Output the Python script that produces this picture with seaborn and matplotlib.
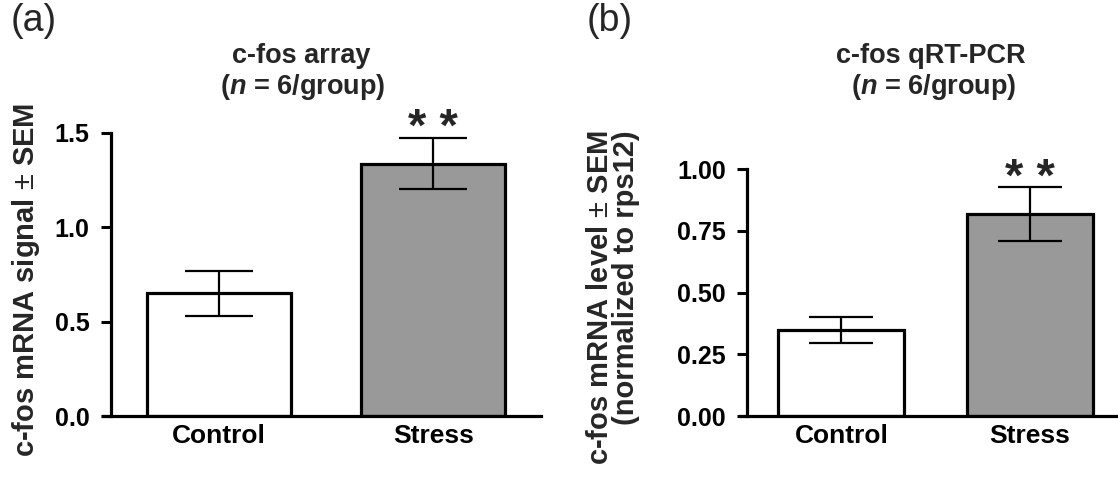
import matplotlib
matplotlib.use("Agg")
import matplotlib.pyplot as plt
import seaborn as sns
import pandas as pd

groups = ["Control", "Stress"]
array_mean = [0.65, 1.335]
array_sem = [0.118, 0.135]
pcr_mean = [0.347, 0.818]
pcr_sem = [0.053, 0.11]
array_ticks = [0.0, 0.5, 1.0, 1.5]
array_ticklabels = ["0.0", "0.5", "1.0", "1.5"]
pcr_ticks = [0.0, 0.25, 0.5, 0.75, 1.0]
pcr_ticklabels = ["0.00", "0.25", "0.50", "0.75", "1.00"]
bar_colors = ["#ffffff", "#999999"]

sns.set_theme(style="white")
plt.rcParams["font.family"] = ["Liberation Sans", "DejaVu Sans"]
plt.rcParams["mathtext.fontset"] = "custom"
plt.rcParams["mathtext.rm"] = "Liberation Sans"
plt.rcParams["mathtext.it"] = "Liberation Sans:italic:bold"
plt.rcParams["mathtext.bf"] = "Liberation Sans:bold"

W, H = 1118, 479
fig = plt.figure(figsize=(W / 100, H / 100), dpi=100)

def px_box(left, right, top, bottom):
    return [left / W, 1 - bottom / H, (right - left) / W, (bottom - top) / H]

ax1 = fig.add_axes(px_box(103, 540.8, 132.7, 416))
ax2 = fig.add_axes(px_box(740, 1124, 169.3, 416))

def draw(ax, means, sems, ymax, ticks, ticklabels, caps):
    df = pd.DataFrame({"group": groups, "value": means})
    sns.barplot(data=df, x="group", y="value", hue="group", palette=bar_colors,
                edgecolor="black", linewidth=2.3, width=0.67, errorbar=None,
                legend=False, ax=ax, zorder=2)
    ax.errorbar(x=[0, 1], y=means, yerr=sems, fmt="none", ecolor="black",
                elinewidth=1.6, capsize=caps, capthick=1.6, zorder=3)
    ax.set_xlim(-0.538, 1.5)
    ax.set_ylim(0, ymax)
    ax.spines["top"].set_visible(False)
    ax.spines["right"].set_visible(False)
    ax.spines["left"].set_position(("data", -0.503))
    ax.spines["left"].set_bounds(0, ymax)
    for s in ["left", "bottom"]:
        ax.spines[s].set_linewidth(2.3)
        ax.spines[s].set_color("black")
    ax.set_yticks(ticks)
    ax.set_yticklabels(ticklabels, fontsize=18, fontweight="bold")
    ax.set_xticks([0, 1])
    ax.set_xticklabels(groups, fontsize=19, fontweight="bold")
    ax.tick_params(axis="y", direction="out", length=7, width=2.2, pad=8, left=True, colors="black")
    ax.tick_params(axis="x", length=0, pad=6, colors="black")
    ax.set_xlabel("")
    ax.set_ylabel("")
    ax.set_facecolor("white")

draw(ax1, array_mean, array_sem, 1.5, array_ticks, array_ticklabels, 24.5)
draw(ax2, pcr_mean, pcr_sem, 1.0, pcr_ticks, pcr_ticklabels, 22.8)

# significance stars
ax1.text(1, 1.52, "* *", ha="center", va="center", fontsize=34, fontweight="bold", clip_on=False)
ax2.text(1, 0.96, "* *", ha="center", va="center", fontsize=34, fontweight="bold", clip_on=False)

# titles
fig.text(301 / W, 1 - 43 / H, "c-fos array", ha="center", va="top", fontsize=19.5, fontweight="bold")
fig.text(303 / W, 1 - 72 / H, r"($\mathit{n}$ = 6/group)", ha="center", va="top", fontsize=19.5, fontweight="bold")
fig.text(931 / W, 1 - 43 / H, "c-fos qRT-PCR", ha="center", va="top", fontsize=19.5, fontweight="bold")
fig.text(934 / W, 1 - 72 / H, r"($\mathit{n}$ = 6/group)", ha="center", va="top", fontsize=19.5, fontweight="bold")

# panel labels
fig.text(11 / W, 1 - 3 / H, "(a)", ha="left", va="top", fontsize=27)
fig.text(587 / W, 1 - 3 / H, "(b)", ha="left", va="top", fontsize=27)

# y labels
fig.text(26 / W, 1 - 280 / H, r"c-fos mRNA signal $\pm$ SEM", rotation=90, ha="center", va="center",
         fontsize=21, fontweight="bold")
fig.text(600 / W, 1 - 130 / H, r"c-fos mRNA level $\pm$ SEM", rotation=90, ha="center", va="top",
         fontsize=21, fontweight="bold")
fig.text(626 / W, 1 - 130 / H, "(normalized to rps12)", rotation=90, ha="center", va="top",
         fontsize=21, fontweight="bold")

fig.savefig("out.png", dpi=100, facecolor="white")
